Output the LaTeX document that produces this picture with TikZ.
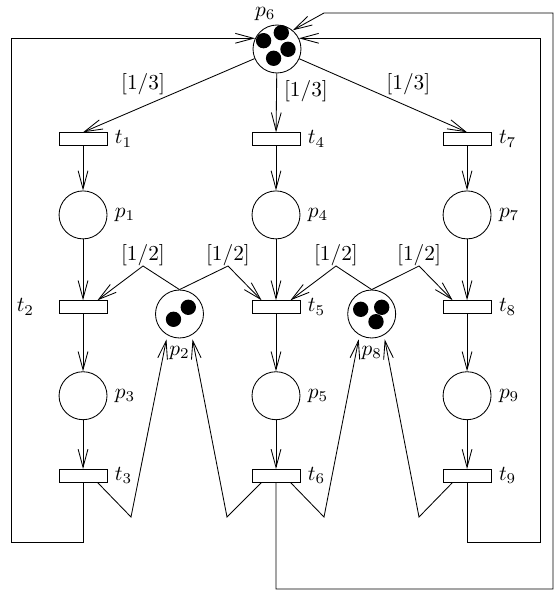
\documentclass[tikz,border=0pt]{standalone}
\usetikzlibrary{arrows.meta}
\tikzset{node distance=2cm, auto,
  place/.style={circle, draw, minimum size=22.5pt, inner sep=0pt},
  trans/.style={rectangle, draw, minimum width=22.5pt, minimum height=5.9pt, inner sep=0pt},
  flow/.style={-{Straight Barb[length=8.5pt,width=4.6pt]}},
  weight/.style={above, inner sep=0pt},
}

\begin{document}
\begin{tikzpicture}[x=0.469pt, y=-0.469pt]
  \useasboundingbox (0,0) rectangle (554,590);

  \node[place, label={[label distance=-1.5pt, xshift=-5.5pt]above:$p_6$}] (p6) at (277,49) {};
  \node[trans, label=right:$t_4$] (t4) at (276,139) {};
  \node[trans, label=right:$t_1$, node distance=90.5pt] (t1) [left of=t4] {};
  \node[trans, label=right:$t_7$, node distance=89.6pt] (t7) [right of=t4] {};

  % left column
  \node[place, label=right:$p_1$, node distance=35.6pt] (p1) [below of=t1] {};
  \node[trans, label={[label distance=8pt]left:$t_2$}, node distance=43.2pt] (t2) [below of=p1] {};
  \node[place, label=right:$p_3$, node distance=41.6pt] (p3) [below of=t2] {};
  \node[trans, label=right:$t_3$, node distance=37.5pt] (t3) [below of=p3] {};
  % middle column
  \node[place, label=right:$p_4$, node distance=35.6pt] (p4) [below of=t4] {};
  \node[trans, label=right:$t_5$, node distance=43.2pt] (t5) [below of=p4] {};
  \node[place, label=right:$p_5$, node distance=41.6pt] (p5) [below of=t5] {};
  \node[trans, label=right:$t_6$, node distance=37.5pt] (t6) [below of=p5] {};
  % right column
  \node[place, label=right:$p_7$, node distance=35.6pt] (p7) [below of=t7] {};
  \node[trans, label=right:$t_8$, node distance=43.2pt] (t8) [below of=p7] {};
  \node[place, label=right:$p_9$, node distance=41.6pt] (p9) [below of=t8] {};
  \node[trans, label=right:$t_9$, node distance=37.5pt] (t9) [below of=p9] {};

  \node[place, label=below:$p_2$] (p2) at (179.5,314) {};
  \node[place, label=below:$p_8$] (p8) at (371.7,314) {};

  % tokens
  \foreach \dx/\dy in {-13.4/-8.3, 4.3/-16.3, 11/0.3, -3.4/9.3}
    \fill (p6) ++(\dx,\dy) circle (3.6pt);
  \foreach \dx/\dy in {-6/5.3, 8.8/-6.7}
    \fill (p2) ++(\dx,\dy) circle (3.6pt);
  \foreach \dx/\dy in {-11/-4.7, 10/-6.7, 4.3/7.7}
    \fill (p8) ++(\dx,\dy) circle (3.6pt);

  \coordinate (a1) at (143,266);
  \coordinate (a2) at (228,266);
  \coordinate (a3) at (336,266);
  \coordinate (a4) at (419,266);
  \coordinate (b1) at (131,517);
  \coordinate (b2) at (227,517);
  \coordinate (b3) at (324,517);
  \coordinate (b4) at (419,517);
  \coordinate (lb) at (11,542);
  \coordinate (rb) at (540,542);
  \coordinate (ob) at (553,589);
  \coordinate (ot) at (324,13);

  \draw[flow] (p6) -- node[above, pos=0.65, yshift=2pt] {$[1/3]$} (t1.north);
  \draw[flow] (p6) -- node[right, pos=0.3] {$[1/3]$} (t4);
  \draw[flow] (p6) -- node[above, pos=0.65, yshift=2pt] {$[1/3]$} (t7.north);

  \foreach \a/\b in {t1/p1, p1/t2, t2/p3, p3/t3, t4/p4, p4/t5, t5/p5, p5/t6,
                     t7/p7, p7/t8, t8/p9, p9/t9}
    \draw[flow] (\a) -- (\b);

  \draw[flow] (p2.north) -- (a1) node[weight] {$[1/2]$} -- (t2.25);
  \draw[flow] (p2.north) -- (a2) node[weight] {$[1/2]$} -- (t5.155);
  \draw[flow] (p8.north) -- (a3) node[weight] {$[1/2]$} -- (t5.25);
  \draw[flow] (p8.north) -- (a4) node[weight] {$[1/2]$} -- (t8.155);

  \draw[flow, shorten >=2pt] (t3.-25) -- (b1) -- (p2.-120);
  \draw[flow, shorten >=2pt] (t6.-155) -- (b2) -- (p2.-60);
  \draw[flow, shorten >=2pt] (t6.-25) -- (b3) -- (p8.-120);
  \draw[flow, shorten >=2pt] (t9.-155) -- (b4) -- (p8.-60);

  % feedback to p6
  \draw[flow] (t3.south) |- (lb) |- (p6.154);
  \draw[flow] (t9.south) |- (rb) |- (p6.26);
  \draw[flow] (t6.south) |- (ob) |- (ot) -- (p6.50);
\end{tikzpicture}
\end{document}
